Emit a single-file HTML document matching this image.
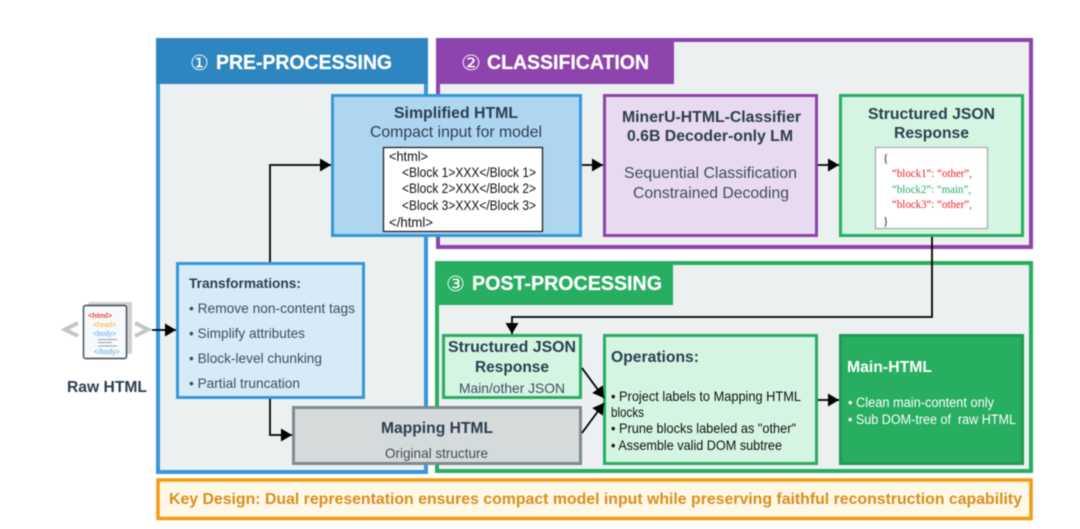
<!DOCTYPE html>
<html lang="en">
<head>
<meta charset="utf-8">
<title>MinerU HTML pipeline diagram</title>
<style>
html,body{margin:0;padding:0;background:#fff;width:1080px;height:529px;overflow:hidden}
svg{display:block;filter:blur(.4px)}
text{font-family:"Liberation Sans",sans-serif;fill:#2c3e50}
.b{font-weight:700}
.h{font-weight:700;fill:#fff;font-size:20.500px;stroke:#fff;stroke-width:.25px}
.n{font-family:"DejaVu Sans",sans-serif;fill:#fff;font-size:21px}
.m{fill:#111;font-size:14px}
.s{font-family:"Liberation Serif",serif;font-size:11.500px}
.w{fill:#fff}
.l{fill:none;stroke:#000;stroke-width:1.800}
</style>
</head>
<body>
<svg width="1080" height="529" viewBox="0 0 1080 529" xmlns="http://www.w3.org/2000/svg">
<defs>
<marker id="a" markerUnits="userSpaceOnUse" markerWidth="12" markerHeight="13" refX="11" refY="6.500" orient="auto"><path d="M0 0L11 6.500L0 13z" fill="#000"/></marker>
</defs>
<rect width="1080" height="529" fill="#fff"/>

<!-- Sections -->
<rect x="158" y="40" width="268" height="432" fill="#ecf0f1" stroke="#3498db" stroke-width="4"/>
<rect x="156" y="38" width="272" height="46" fill="#2e86c1"/>
<rect x="438" y="40" width="593" height="207" fill="#ecf0f1" stroke="#8e44ad" stroke-width="4"/>
<rect x="436" y="38" width="238" height="46" fill="#8e44ad"/>
<rect x="437" y="263" width="594" height="208" fill="#ecf0f1" stroke="#27ae60" stroke-width="4"/>
<rect x="435" y="261" width="238" height="44" fill="#27ae60"/>
<rect x="158" y="480" width="873" height="38.500" fill="#fef9e7" stroke="#f39c12" stroke-width="3.500"/>

<text class="n" x="190" y="70" textLength="19" lengthAdjust="spacingAndGlyphs">①</text>
<text class="h" x="216" y="69" textLength="176" lengthAdjust="spacingAndGlyphs">PRE-PROCESSING</text>
<text class="n" x="461" y="70" textLength="20" lengthAdjust="spacingAndGlyphs">②</text>
<text class="h" x="487" y="69" textLength="162" lengthAdjust="spacingAndGlyphs">CLASSIFICATION</text>
<text class="n" x="446" y="291" textLength="19" lengthAdjust="spacingAndGlyphs">③</text>
<text class="h" x="472" y="290" textLength="190" lengthAdjust="spacingAndGlyphs">POST-PROCESSING</text>

<!-- Raw HTML icon -->
<path d="M78 323L65 329.500L78 336" fill="none" stroke="#c4c6c6" stroke-width="4"/>
<path d="M135 323L148 329.500L135 336" fill="none" stroke="#c4c6c6" stroke-width="4"/>
<rect x="88" y="302" width="44" height="52" rx="2" fill="#cfd1d3"/>
<rect x="83.500" y="305.500" width="43" height="53" rx="2" fill="#f7f9fb" stroke="#3d4654" stroke-width="1.400"/>
<text x="88" y="318" font-size="7" class="b" textLength="24" lengthAdjust="spacingAndGlyphs" style="fill:#e74c3c">&lt;html&gt;</text>
<text x="93" y="327" font-size="7" textLength="23" lengthAdjust="spacingAndGlyphs" style="fill:#f5b041">&lt;head&gt;</text>
<text x="93" y="336" font-size="7" textLength="23" lengthAdjust="spacingAndGlyphs" style="fill:#5dade2">&lt;body&gt;</text>
<path d="M98 339.500H117M98 342.500H112M98 346H117" stroke="#8fa3b5" stroke-width=".9"/>
<text x="94" y="354" font-size="7" textLength="26" lengthAdjust="spacingAndGlyphs" style="fill:#5dade2">&lt;/body&gt;</text>
<text class="b" x="67" y="392" font-size="16" textLength="80" lengthAdjust="spacingAndGlyphs">Raw HTML</text>

<!-- Simplified HTML -->
<rect x="332.500" y="95.500" width="248" height="140" fill="#aed6f1" stroke="#3498db" stroke-width="3"/>
<text class="b" x="394" y="118" font-size="16" textLength="124" lengthAdjust="spacingAndGlyphs">Simplified HTML</text>
<text x="370" y="137" font-size="16" textLength="172" lengthAdjust="spacingAndGlyphs">Compact input for model</text>
<rect x="383.500" y="147.500" width="159" height="84" fill="#fff" stroke="#222" stroke-width="1.300"/>
<text class="m" x="389" y="161" textLength="39" lengthAdjust="spacingAndGlyphs">&lt;html&gt;</text>
<text class="m" x="402" y="177" textLength="134" lengthAdjust="spacingAndGlyphs">&lt;Block 1&gt;XXX&lt;/Block 1&gt;</text>
<text class="m" x="402" y="193" textLength="134" lengthAdjust="spacingAndGlyphs">&lt;Block 2&gt;XXX&lt;/Block 2&gt;</text>
<text class="m" x="402" y="210" textLength="134" lengthAdjust="spacingAndGlyphs">&lt;Block 3&gt;XXX&lt;/Block 3&gt;</text>
<text class="m" x="389" y="227" textLength="44" lengthAdjust="spacingAndGlyphs">&lt;/html&gt;</text>

<!-- Classifier -->
<rect x="604.500" y="95.500" width="212" height="140" fill="#e8daef" stroke="#8e44ad" stroke-width="3"/>
<text class="b" x="622" y="122" font-size="16" textLength="179" lengthAdjust="spacingAndGlyphs">MinerU-HTML-Classifier</text>
<text class="b" x="627" y="141" font-size="16" textLength="166" lengthAdjust="spacingAndGlyphs">0.6B Decoder-only LM</text>
<text x="624" y="178" font-size="16" textLength="173" lengthAdjust="spacingAndGlyphs" style="fill:#3f4d5c">Sequential Classification</text>
<text x="633" y="198" font-size="16" textLength="156" lengthAdjust="spacingAndGlyphs" style="fill:#3f4d5c">Constrained Decoding</text>

<!-- JSON response -->
<rect x="840.500" y="95.500" width="182" height="140" fill="#d5f5e3" stroke="#27ae60" stroke-width="3"/>
<text class="b" x="868" y="119" font-size="16" textLength="127" lengthAdjust="spacingAndGlyphs">Structured JSON</text>
<text class="b" x="894" y="138" font-size="16" textLength="75" lengthAdjust="spacingAndGlyphs">Response</text>
<rect x="875.500" y="147.500" width="112" height="81" fill="#fff" stroke="#a9adad" stroke-width="1.300"/>
<text class="s" x="883" y="162" style="fill:#222">{</text>
<text class="s" x="892" y="177" textLength="80" lengthAdjust="spacingAndGlyphs" style="fill:#ee1c25">“block1”: “other”,</text>
<text class="s" x="892" y="193" textLength="79" lengthAdjust="spacingAndGlyphs" style="fill:#27ae60">“block2”: “main”,</text>
<text class="s" x="892" y="208" textLength="80" lengthAdjust="spacingAndGlyphs" style="fill:#ee1c25">“block3”: “other”,</text>
<text class="s" x="883" y="225" style="fill:#222">}</text>

<!-- Transformations -->
<rect x="177.500" y="263.500" width="186" height="134" fill="#d6eaf8" stroke="#3498db" stroke-width="3"/>
<text class="b" x="189" y="288" font-size="14" textLength="112" lengthAdjust="spacingAndGlyphs">Transformations:</text>
<text x="189" y="313" font-size="14" textLength="166" lengthAdjust="spacingAndGlyphs" style="fill:#3f4d5c">• Remove non-content tags</text>
<text x="189" y="338" font-size="14" textLength="116" lengthAdjust="spacingAndGlyphs" style="fill:#3f4d5c">• Simplify attributes</text>
<text x="189" y="363" font-size="14" textLength="133" lengthAdjust="spacingAndGlyphs" style="fill:#3f4d5c">• Block-level chunking</text>
<text x="189" y="388" font-size="14" textLength="111" lengthAdjust="spacingAndGlyphs" style="fill:#3f4d5c">• Partial truncation</text>

<!-- Mapping HTML -->
<rect x="293.500" y="407.500" width="287" height="56" fill="#d5dbdb" stroke="#7f8c8d" stroke-width="3"/>
<text class="b" x="381" y="433" font-size="16" textLength="112" lengthAdjust="spacingAndGlyphs">Mapping HTML</text>
<text x="385" y="458" font-size="14" textLength="103" lengthAdjust="spacingAndGlyphs" style="fill:#3f4d5c">Original structure</text>

<!-- Structured JSON 2 -->
<rect x="443.500" y="335.500" width="137" height="62" fill="#d5f5e3" stroke="#27ae60" stroke-width="3"/>
<text class="b" x="448" y="352" font-size="16" textLength="128" lengthAdjust="spacingAndGlyphs">Structured JSON</text>
<text class="b" x="475" y="372" font-size="16" textLength="74" lengthAdjust="spacingAndGlyphs">Response</text>
<text x="459" y="393" font-size="14" textLength="106" lengthAdjust="spacingAndGlyphs" style="fill:#3f4d5c">Main/other JSON</text>

<!-- Operations -->
<rect x="604.500" y="335.500" width="212" height="128" fill="#d5f5e3" stroke="#27ae60" stroke-width="3"/>
<text class="b" x="611" y="362" font-size="16" textLength="88" lengthAdjust="spacingAndGlyphs">Operations:</text>
<text class="m" x="611" y="401" textLength="190" lengthAdjust="spacingAndGlyphs">• Project labels to Mapping HTML</text>
<text class="m" x="611" y="417" textLength="33" lengthAdjust="spacingAndGlyphs">blocks</text>
<text class="m" x="611" y="433" textLength="185" lengthAdjust="spacingAndGlyphs">• Prune blocks labeled as "other"</text>
<text class="m" x="611" y="450" textLength="171" lengthAdjust="spacingAndGlyphs">• Assemble valid DOM subtree</text>

<!-- Main-HTML -->
<rect x="840.500" y="335.500" width="182" height="128" fill="#27ae60" stroke="#229954" stroke-width="3"/>
<text class="b w" x="847" y="372" font-size="16" textLength="85" lengthAdjust="spacingAndGlyphs">Main-HTML</text>
<text class="w" x="848" y="407" font-size="13.500" textLength="146" lengthAdjust="spacingAndGlyphs">• Clean main-content only</text>
<text class="w" x="848" y="424" font-size="13.500" textLength="168" lengthAdjust="spacingAndGlyphs" xml:space="preserve">• Sub DOM-tree of  raw HTML</text>

<!-- Key design -->
<text class="b" x="169" y="504" font-size="16" textLength="853" lengthAdjust="spacingAndGlyphs" style="fill:#dc8d1f">Key Design: Dual representation ensures compact model input while preserving faithful reconstruction capability</text>

<!-- Connectors -->
<path class="l" marker-end="url(#a)" d="M152 330H176"/>
<path class="l" marker-end="url(#a)" d="M270 262V165H331"/>
<path class="l" marker-end="url(#a)" d="M270 399V435H292"/>
<path class="l" marker-end="url(#a)" d="M582 165H603"/>
<path class="l" marker-end="url(#a)" d="M818 165H839"/>
<path class="l" marker-end="url(#a)" d="M932 237V317H512V334"/>
<path class="l" marker-end="url(#a)" d="M582 368L604 398"/>
<path class="l" marker-end="url(#a)" d="M582 433L604 403"/>
<path class="l" marker-end="url(#a)" d="M818 400H839"/>
</svg>
</body>
</html>
